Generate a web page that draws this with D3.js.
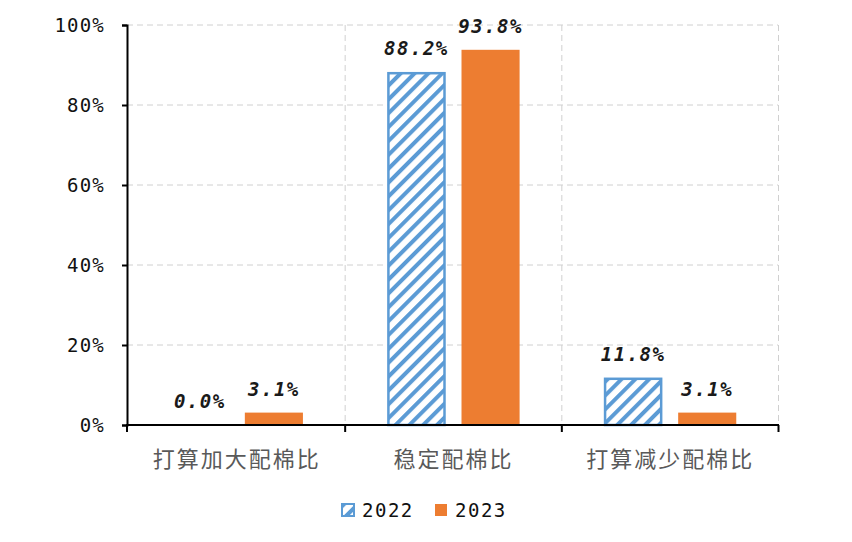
<!DOCTYPE html>
<html><head><meta charset="utf-8">
<script src="https://cdn.jsdelivr.net/npm/d3@7/dist/d3.min.js"></script>
<style>body{margin:0;background:#fff}</style>
</head><body><svg id="c" width="852" height="542"></svg>
<script>
const categories = ["打算加大配棉比", "稳定配棉比", "打算减少配棉比"];
const seriesNames = ["2022", "2023"];
const values2022 = [0.0, 88.2, 11.8];
const values2023 = [3.1, 93.8, 3.1];
const yTicks = [0, 20, 40, 60, 80, 100];

const svg = d3.select("#c");
const mono = "'DejaVu Sans Mono', monospace";
const cjk = "'Noto Sans CJK SC', sans-serif";
const blue = "#5B9BD5", orange = "#ED7D31";

const defs = svg.append("defs");
const pat = defs.append("pattern").attr("id", "hatch").attr("patternUnits", "userSpaceOnUse")
  .attr("width", 9.8).attr("height", 9.8).attr("patternTransform", "rotate(45)");
pat.append("rect").attr("width", 9.8).attr("height", 9.8).attr("fill", "#fff");
pat.append("rect").attr("width", 4).attr("height", 9.8).attr("fill", blue);

const x0 = d3.scaleBand().domain(categories).range([128.5, 778.5]).paddingInner(0).paddingOuter(0);
const x1 = d3.scaleBand().domain(seriesNames).range([0, x0.bandwidth()]).paddingInner(0.216).paddingOuter(0.57);
const y = d3.scaleLinear().domain([0, 100]).range([425, 25]);

// gridlines
svg.append("g").selectAll("line").data(yTicks.filter(d => d > 0)).join("line")
  .attr("x1", 127).attr("x2", 778).attr("y1", d => y(d)).attr("y2", d => y(d))
  .attr("stroke", "#d0d0d0").attr("stroke-dasharray", "6,4").attr("stroke-width", 1);
const bounds = categories.map(c => x0(c) + x0.bandwidth());
svg.append("g").selectAll("line").data(bounds).join("line")
  .attr("x1", d => d).attr("x2", d => d).attr("y1", 25).attr("y2", 425)
  .attr("stroke", "#d0d0d0").attr("stroke-dasharray", "6,4").attr("stroke-width", 1);

// bars
const data = [];
categories.forEach((c, i) => {
  data.push({c, s: "2022", v: values2022[i]});
  data.push({c, s: "2023", v: values2023[i]});
});
svg.append("g").selectAll("rect").data(data.filter(d => d.v > 0)).join("rect")
  .attr("x", d => x0(d.c) + x1(d.s) + (d.s === "2022" ? 1 : 0))
  .attr("width", d => x1.bandwidth() - (d.s === "2022" ? 2 : 0))
  .attr("y", d => y(d.v) + (d.s === "2022" ? 1 : 0))
  .attr("height", d => y(0) - y(d.v) - (d.s === "2022" ? 1 : 0))
  .attr("fill", d => d.s === "2022" ? "url(#hatch)" : orange)
  .attr("stroke", d => d.s === "2022" ? blue : "none")
  .attr("stroke-width", 2.5);

// labels
svg.append("g").selectAll("text").data(data).join("text")
  .attr("x", d => x0(d.c) + x1(d.s) + x1.bandwidth() / 2)
  .attr("y", d => y(d.v) - 17)
  .attr("text-anchor", "middle")
  .attr("font-family", mono).attr("font-size", 19).attr("font-weight", "bold").attr("font-style", "italic")
  .attr("fill", "#1a1a1a").attr("letter-spacing", 1.5)
  .text(d => d.v.toFixed(1) + "%");

// y axis
const yAxis = svg.append("g").attr("transform", "translate(127,0)")
  .call(d3.axisLeft(y).tickValues(yTicks).tickFormat(d => d + "%").tickSize(5).tickSizeOuter(5));
yAxis.select(".domain").attr("stroke", "#000").attr("stroke-width", 2);
yAxis.selectAll(".tick line").attr("stroke", "#000").attr("stroke-width", 2);
yAxis.selectAll("text").attr("font-family", mono).attr("font-size", 19).attr("fill", "#111")
  .attr("letter-spacing", 1.2).attr("x", -22).attr("dy", "0.35em");

// x axis
const xAxisG = svg.append("g");
xAxisG.append("line").attr("x1", 126).attr("x2", 779).attr("y1", 425).attr("y2", 425)
  .attr("stroke", "#000").attr("stroke-width", 2);
xAxisG.selectAll("line.t").data([127, ...bounds]).join("line").attr("class", "t")
  .attr("x1", d => d).attr("x2", d => d).attr("y1", 425).attr("y2", 432)
  .attr("stroke", "#000").attr("stroke-width", 2);
xAxisG.selectAll("text").data(categories).join("text")
  .attr("x", d => x0(d) + x0.bandwidth() / 2).attr("y", 467)
  .attr("text-anchor", "middle").attr("font-family", cjk).attr("font-size", 22)
  .attr("fill", "#595959").attr("letter-spacing", 2)
  .text(d => d);

// legend
const leg = svg.append("g");
const legX = [341, 434];
seriesNames.forEach((s, i) => {
  leg.append("rect").attr("x", legX[i] + 1).attr("y", 504).attr("width", 12).attr("height", 12)
    .attr("fill", i === 0 ? "url(#hatch)" : orange)
    .attr("stroke", i === 0 ? blue : "none").attr("stroke-width", 2);
  leg.append("text").attr("x", legX[i] + 21).attr("y", 517)
    .attr("font-family", mono).attr("font-size", 19).attr("fill", "#111")
    .attr("letter-spacing", 1.5).text(s);
});
</script></body></html>
